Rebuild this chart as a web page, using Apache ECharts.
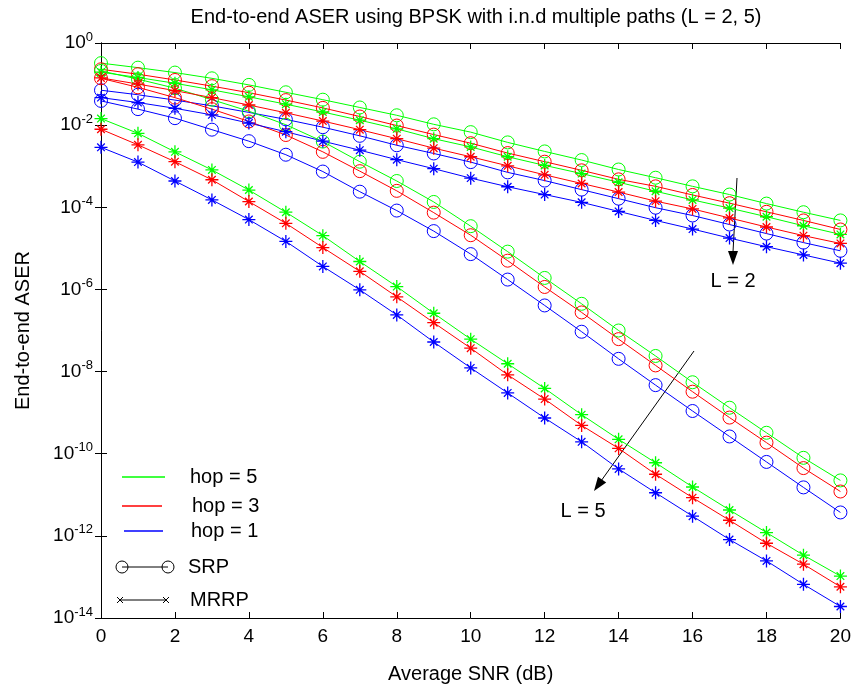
<!DOCTYPE html>
<html>
<head>
<meta charset="utf-8">
<script src="https://cdn.jsdelivr.net/npm/echarts@6/dist/echarts.min.js"></script>
<style>html,body{margin:0;padding:0;background:#fff}#c{width:854px;height:689px}</style>
</head>
<body>
<div id="c"></div>
<script>
// x values (Average SNR, dB)
const snr = [0,1,2,3,4,5,6,7,8,9,10,11,12,13,14,15,16,17,18,19,20];
const yTickExponents = [0,-2,-4,-6,-8,-10,-12,-14];

// log10(ASER)
// L = 2
const l2SrpHop5  = [-0.49,-0.60,-0.72,-0.86,-1.02,-1.20,-1.38,-1.57,-1.76,-1.98,-2.17,-2.42,-2.64,-2.85,-3.08,-3.28,-3.49,-3.69,-3.91,-4.12,-4.32];
const l2SrpHop3  = [-0.64,-0.76,-0.90,-1.05,-1.21,-1.39,-1.58,-1.79,-2.01,-2.23,-2.44,-2.68,-2.89,-3.10,-3.32,-3.49,-3.70,-3.90,-4.11,-4.32,-4.54];
const l2SrpHop1  = [-1.15,-1.26,-1.39,-1.53,-1.69,-1.86,-2.05,-2.26,-2.49,-2.69,-2.90,-3.15,-3.35,-3.57,-3.79,-4.01,-4.20,-4.42,-4.64,-4.86,-5.06];
const l2MrrpHop5 = [-0.71,-0.84,-0.98,-1.14,-1.31,-1.49,-1.68,-1.88,-2.09,-2.33,-2.53,-2.77,-2.98,-3.18,-3.39,-3.61,-3.82,-4.02,-4.23,-4.45,-4.66];
const l2MrrpHop3 = [-0.85,-1.00,-1.16,-1.33,-1.51,-1.70,-1.90,-2.11,-2.33,-2.56,-2.77,-2.99,-3.21,-3.42,-3.63,-3.85,-4.04,-4.26,-4.48,-4.69,-4.88];
const l2MrrpHop1 = [-1.33,-1.45,-1.59,-1.75,-1.95,-2.16,-2.39,-2.61,-2.84,-3.06,-3.29,-3.50,-3.69,-3.88,-4.10,-4.32,-4.53,-4.75,-4.96,-5.16,-5.36];
// L = 5
const l5SrpHop5  = [-0.68,-0.88,-1.10,-1.38,-1.66,-1.99,-2.40,-2.89,-3.36,-3.87,-4.46,-5.08,-5.72,-6.35,-7.00,-7.62,-8.26,-8.88,-9.49,-10.10,-10.65];
const l5SrpHop3  = [-0.86,-1.08,-1.33,-1.61,-1.91,-2.24,-2.65,-3.12,-3.60,-4.13,-4.68,-5.30,-5.94,-6.56,-7.21,-7.85,-8.49,-9.12,-9.73,-10.35,-10.92];
const l5SrpHop1  = [-1.41,-1.61,-1.83,-2.11,-2.39,-2.72,-3.13,-3.62,-4.08,-4.58,-5.14,-5.76,-6.39,-7.03,-7.69,-8.33,-8.96,-9.58,-10.20,-10.82,-11.43];
const l5MrrpHop5 = [-1.84,-2.20,-2.65,-3.09,-3.58,-4.12,-4.69,-5.32,-5.93,-6.58,-7.21,-7.81,-8.41,-9.05,-9.65,-10.22,-10.81,-11.37,-11.92,-12.47,-12.98];
const l5MrrpHop3 = [-2.10,-2.48,-2.89,-3.33,-3.86,-4.39,-4.98,-5.56,-6.18,-6.81,-7.43,-8.08,-8.67,-9.31,-9.87,-10.50,-11.07,-11.62,-12.18,-12.69,-13.24];
const l5MrrpHop1 = [-2.54,-2.90,-3.36,-3.82,-4.30,-4.83,-5.44,-6.01,-6.62,-7.28,-7.91,-8.52,-9.13,-9.71,-10.37,-10.95,-11.52,-12.09,-12.61,-13.18,-13.72];

const GREEN = '#00ff00', RED = '#ff0000', BLUE = '#0000ff';
const FONT = 'Liberation Sans, Arial, sans-serif';
const STAR = 'path://M0 5.4H12V6.6H0Z M5.4 0H6.6V12H5.4Z M2.92 2.08L9.92 9.08L9.08 9.92L2.08 2.92Z M9.92 2.92L2.92 9.92L2.08 9.08L9.08 2.08Z';

function mk(name, logs, color, srp) {
  return {
    type: 'line', name: name,
    data: snr.map((x, i) => [x, Math.pow(10, logs[i])]),
    symbol: srp ? 'circle' : STAR,
    symbolSize: 13,
    showSymbol: true, showAllSymbol: true,
    lineStyle: { color: color, width: 1 },
    itemStyle: srp ? { color: 'rgba(0,0,0,0)', borderColor: color, borderWidth: 1 } : { color: color, borderWidth: 0 },
    emphasis: { disabled: true },
    silent: true,
    animation: false
  };
}

const series = [
  mk('L2 SRP hop5', l2SrpHop5, GREEN, true),
  mk('L2 SRP hop3', l2SrpHop3, RED, true),
  mk('L2 SRP hop1', l2SrpHop1, BLUE, true),
  mk('L5 SRP hop5', l5SrpHop5, GREEN, true),
  mk('L5 SRP hop3', l5SrpHop3, RED, true),
  mk('L5 SRP hop1', l5SrpHop1, BLUE, true),
  mk('L2 MRRP hop5', l2MrrpHop5, GREEN, false),
  mk('L2 MRRP hop3', l2MrrpHop3, RED, false),
  mk('L2 MRRP hop1', l2MrrpHop1, BLUE, false),
  mk('L5 MRRP hop5', l5MrrpHop5, GREEN, false),
  mk('L5 MRRP hop3', l5MrrpHop3, RED, false),
  mk('L5 MRRP hop1', l5MrrpHop1, BLUE, false)
];

const axisCommon = {
  axisLine: { show: true, lineStyle: { color: '#000', width: 1 } },
  axisTick: { show: true, inside: true, length: 6, lineStyle: { color: '#000' } },
  splitLine: { show: false }
};

const tickFont = 19, textFont = 20;

function supLabel(v) {
  const e = Math.round(Math.log10(v));
  return '{b|10}{s|' + e + '}';
}

const legendItems = [
  { type: 'line', shape: { x1: 122, y1: 477, x2: 165, y2: 477 }, style: { stroke: GREEN, lineWidth: 1.5 } },
  { type: 'text', x: 190, y: 477, style: { text: 'hop = 5', font: textFont + 'px ' + FONT, fill: '#000', verticalAlign: 'middle' } },
  { type: 'line', shape: { x1: 122, y1: 506, x2: 162, y2: 506 }, style: { stroke: RED, lineWidth: 1.5 } },
  { type: 'text', x: 192, y: 506, style: { text: 'hop = 3', font: textFont + 'px ' + FONT, fill: '#000', verticalAlign: 'middle' } },
  { type: 'line', shape: { x1: 124, y1: 531, x2: 163, y2: 531 }, style: { stroke: BLUE, lineWidth: 1.5 } },
  { type: 'text', x: 191, y: 531, style: { text: 'hop = 1', font: textFont + 'px ' + FONT, fill: '#000', verticalAlign: 'middle' } },
  { type: 'line', shape: { x1: 122, y1: 567, x2: 168, y2: 567 }, style: { stroke: '#000', lineWidth: 1 } },
  { type: 'circle', shape: { cx: 122, cy: 567, r: 6 }, style: { fill: 'none', stroke: '#000', lineWidth: 1 } },
  { type: 'circle', shape: { cx: 168, cy: 567, r: 6 }, style: { fill: 'none', stroke: '#000', lineWidth: 1 } },
  { type: 'text', x: 188, y: 567, style: { text: 'SRP', font: textFont + 'px ' + FONT, fill: '#000', verticalAlign: 'middle' } },
  { type: 'line', shape: { x1: 120, y1: 600, x2: 166, y2: 600 }, style: { stroke: '#000', lineWidth: 1 } },
  { type: 'line', shape: { x1: 117, y1: 597, x2: 123, y2: 603 }, style: { stroke: '#000', lineWidth: 1 } },
  { type: 'line', shape: { x1: 117, y1: 603, x2: 123, y2: 597 }, style: { stroke: '#000', lineWidth: 1 } },
  { type: 'line', shape: { x1: 163, y1: 597, x2: 169, y2: 603 }, style: { stroke: '#000', lineWidth: 1 } },
  { type: 'line', shape: { x1: 163, y1: 603, x2: 169, y2: 597 }, style: { stroke: '#000', lineWidth: 1 } },
  { type: 'text', x: 190, y: 600, style: { text: 'MRRP', font: textFont + 'px ' + FONT, fill: '#000', verticalAlign: 'middle' } },
  // annotation L = 2
  { type: 'line', shape: { x1: 737, y1: 178, x2: 733, y2: 252 }, style: { stroke: '#000', lineWidth: 1 } },
  { type: 'polygon', shape: { points: [[728, 251], [738, 251], [733, 265]] }, style: { fill: '#000' } },
  { type: 'text', x: 733, y: 281, style: { text: 'L = 2', font: textFont + 'px ' + FONT, fill: '#000', align: 'center', verticalAlign: 'middle' } },
  // annotation L = 5
  { type: 'line', shape: { x1: 694, y1: 351, x2: 601, y2: 481 }, style: { stroke: '#000', lineWidth: 1 } },
  { type: 'polygon', shape: { points: [[606.2, 482.5], [598.0, 476.7], [594, 491]] }, style: { fill: '#000' } },
  { type: 'text', x: 583, y: 511, style: { text: 'L = 5', font: textFont + 'px ' + FONT, fill: '#000', align: 'center', verticalAlign: 'middle' } }
];

const chart = echarts.init(document.getElementById('c'), null, { renderer: 'canvas' });
chart.setOption({
  backgroundColor: '#fff',
  animation: false,
  title: {
    text: 'End-to-end ASER using BPSK with i.n.d multiple paths (L = 2, 5)',
    left: 471, textAlign: 'center', top: 2,
    textStyle: { fontFamily: FONT, fontSize: textFont, fontWeight: 'normal', color: '#000' }
  },
  grid: { left: 101, right: 13, top: 43, bottom: 64, containLabel: false },
  xAxis: [
    Object.assign({}, axisCommon, {
      type: 'value', min: 0, max: 20, interval: 2, position: 'bottom',
      axisLabel: { color: '#000', fontFamily: FONT, fontSize: tickFont, margin: 9 },
      name: 'Average SNR (dB)', nameLocation: 'middle', nameGap: 46,
      nameTextStyle: { color: '#000', fontFamily: FONT, fontSize: textFont }
    }),
    Object.assign({}, axisCommon, {
      type: 'value', min: 0, max: 20, interval: 2, position: 'top',
      axisLabel: { show: false }
    })
  ],
  yAxis: [
    Object.assign({}, axisCommon, {
      type: 'log', logBase: 10, min: 1e-14, max: 1, interval: 2, position: 'left',
      axisLabel: {
        color: '#000', margin: 8, formatter: supLabel,
        rich: {
          b: { fontFamily: FONT, fontSize: tickFont, color: '#000' },
          s: { fontFamily: FONT, fontSize: 13, color: '#000', verticalAlign: 'bottom', padding: [0, 0, 12, 0] }
        }
      },
      name: 'End-to-end ASER', nameLocation: 'middle', nameGap: 68,
      nameTextStyle: { color: '#000', fontFamily: FONT, fontSize: textFont }
    }),
    Object.assign({}, axisCommon, {
      type: 'log', logBase: 10, min: 1e-14, max: 1, interval: 2, position: 'right',
      axisLabel: { show: false }
    })
  ],
  series: series,
  graphic: legendItems
});
</script>
</body>
</html>
